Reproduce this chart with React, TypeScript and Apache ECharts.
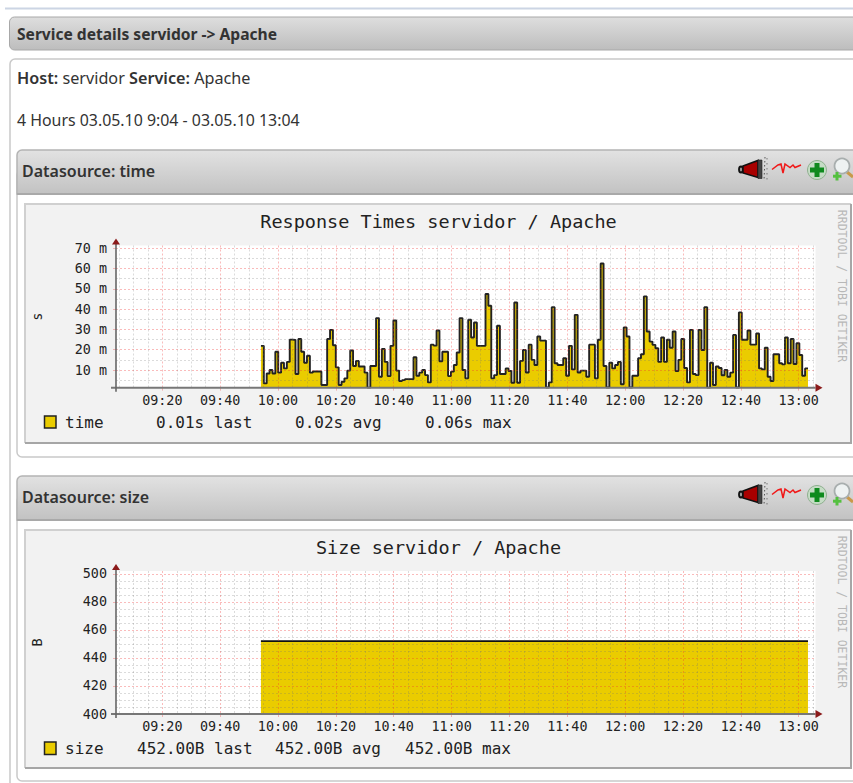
import React, { useEffect, useRef } from "react";
import * as echarts from "echarts";

const timeLabels = ["09:20","09:40","10:00","10:20","10:40","11:00","11:20","11:40","12:00","12:20","12:40","13:00"];
const responseTicks = [10, 20, 30, 40, 50, 60, 70];
const responseMinorTicks = [5, 15, 25, 35, 45, 55, 65];
const sizeTicks = [400, 420, 440, 460, 480, 500];
const sizeMinorTicks = [405, 410, 415, 425, 430, 435, 445, 450, 455, 465, 470, 475, 485, 490, 495];

// Response time in milliseconds, one sample per rrd step
const responseValues = [
  21.9,3.4,8.3,10,8.3,19,8.7,13.6,10.8,14,25,24.8,8,25.3,19,13.6,17,8.7,9.3,9.3,9.3,2.6,2.6,25.3,29.8,22.2,11.3,2.6,4.2,5.9,9.7,19.6,12,14.5,11.7,11.7,8.7,1.3,12,12,35.6,6.7,20.4,14,7,21.9,34.4,9.7,4.6,5,5.5,5.5,5.5,16.3,7.2,8.7,10,7.5,3.9,22.5,22,29.5,14.3,19,19,
  7,9.2,12.5,18.6,35.6,10,5.9,34.8,26,33.4,21.9,21.9,21.9,47.5,41.7,5.9,7.5,31.8,8,8,10.8,9.5,3.7,43.3,3.7,14.5,19.9,8.8,22.5,15,12.5,26.5,24.5,24.5,1.4,3.9,41,13.3,12.5,12.5,15.8,7.2,21.9,10.3,37.2,8.8,9.7,9.7,6.7,22.5,22.5,5.9,24.9,62.5,12,1.4,13.6,10.8,12.5,14,3,31,26.5,1.4,7.2,7.2,
  15.8,17.8,46.3,29,24,22.4,20.7,14,26,14,24.9,21,29,9.5,15,25.3,11,3.9,29.8,8,7.5,29.8,19.9,41,1.3,13.6,2.6,11.7,11,7.4,10,6.7,8.7,27.3,1.4,38.4,24.9,24.9,29.5,22.5,22.5,28,10.8,10.3,21,6.7,4.6,17.8,17.8,13.3,12.8,26,13.3,25.3,13,23.2,17.4,7.2,10.8,
];
const sizeValues = [452, 452];

const DATA_START = 50.1; // minutes after 09:04
const DATA_END = 239.2;
const X_MAX = 241.8;
const ORIGIN = 9 * 60 + 4;

const MONO = '"DejaVu Sans Mono", monospace';
const UI = '"Noto Sans", sans-serif';
const YELLOW = "#EACC00";
const DARKRED = "#8b1a1a";
const MAJOR = "rgba(240,50,50,0.33)";
const MINOR = "rgba(110,110,110,0.25)";

const toMinutes = (s: string) => {
  const [h, m] = s.split(":").map(Number);
  return h * 60 + m - ORIGIN;
};
const majorX = timeLabels.map(toMinutes);
const minorX: number[] = [];
for (let t = 1; t < X_MAX; t += 5) if (!majorX.includes(t)) minorX.push(t);

const stepW = (DATA_END - DATA_START) / responseValues.length;
const responseData = responseValues.map((v, i) => [DATA_START + i * stepW, v]);
responseData.push([DATA_END, responseValues[responseValues.length - 1]]);
const sizeData = sizeValues.map((v, i) => [i === 0 ? DATA_START : DATA_END, v]);

const headGrad = (a: string, b: string) => ({
  type: "linear", x: 0, y: 0, x2: 0, y2: 1,
  colorStops: [{ offset: 0, color: a }, { offset: 1, color: b }],
});

const bg = (el: any) => ({ z: -5, silent: true, ...el });
const fg = (el: any) => ({ z: 10, silent: true, ...el });

function panel(top: number, bottom: number, label: string, imgTop: number, imgBottom: number) {
  return [
    bg({ type: "rect", z2: 1, shape: { x: 17, y: top + 20, width: 860, height: bottom - top - 20, r: 5 }, style: { fill: "#fff", stroke: "#c9c9c9", lineWidth: 1.5 } }),
    bg({ type: "rect", z2: 2, shape: { x: 17, y: top, width: 860, height: 44, r: [5, 0, 0, 0] }, style: { fill: headGrad("#e2e2e2", "#c2c2c2"), stroke: "#b4b4b4", lineWidth: 1.5 } }),
    bg({ type: "rect", z2: 3, shape: { x: 17, y: top + 43, width: 860, height: 2 }, style: { fill: "#a9a9a9" } }),
    bg({ type: "rect", z2: 4, shape: { x: 24, y: imgTop, width: 827.5, height: imgBottom - imgTop }, style: { fill: "#f2f2f2" } }),
    bg({ type: "polyline", z2: 5, shape: { points: [[25, imgBottom], [25, imgTop + 1], [851, imgTop + 1]] }, style: { stroke: "#d0d0d0", lineWidth: 2, fill: "none" } }),
    bg({ type: "polyline", z2: 5, shape: { points: [[25, imgBottom], [851, imgBottom], [851, imgTop + 1]] }, style: { stroke: "#a6a6a6", lineWidth: 2, fill: "none" } }),
    bg({ type: "text", z2: 6, x: 22, y: top + 21, style: { text: label, font: `600 16px ${UI}`, fill: "#333", textAlign: "left", textVerticalAlign: "middle" } }),
  ];
}

function icons(dy: number) {
  return [
    { type: "ellipse", shape: { cx: 741, cy: 169.5 + dy, rx: 2, ry: 3 }, style: { fill: "#999", stroke: "#111", lineWidth: 1.8 } },
    { type: "polygon", shape: { points: [[743, 166 + dy], [758, 160.5 + dy], [758, 177.5 + dy], [743, 173 + dy]] }, style: { fill: "#a80000", stroke: "#111", lineWidth: 1.6 } },
    { type: "rect", shape: { x: 758, y: 160 + dy, width: 4, height: 18.5 }, style: { fill: "#444", stroke: "#222", lineWidth: 0.6 } },
    { type: "line", shape: { x1: 765, y1: 157 + dy, x2: 764, y2: 181 + dy }, style: { stroke: "#555", lineWidth: 1, lineDash: [1.5, 2.5] } },
    { type: "line", shape: { x1: 767, y1: 158 + dy, x2: 767, y2: 180 + dy }, style: { stroke: "#777", lineWidth: 1, lineDash: [1.5, 3.5] } },
    { type: "polyline", shape: { points: [[772, 169.5 + dy], [778, 165 + dy], [781, 164 + dy], [783, 173 + dy], [785, 164 + dy], [790, 167.5 + dy], [793, 165 + dy], [795, 167.5 + dy], [801, 165 + dy]] }, style: { stroke: "#f01818", lineWidth: 1.5, fill: "none" } },
    { type: "circle", shape: { cx: 817, cy: 170 + dy, r: 9.5 }, style: { fill: "#c5dcc5", stroke: "#8fb08f", lineWidth: 1 } },
    { type: "rect", shape: { x: 814.5, y: 163 + dy, width: 5, height: 14 }, style: { fill: "#0f8a1e" } },
    { type: "rect", shape: { x: 810, y: 167.5 + dy, width: 14, height: 5 }, style: { fill: "#0f8a1e" } },
    { type: "line", shape: { x1: 847, y1: 172 + dy, x2: 853, y2: 177 + dy }, style: { stroke: "#c9994a", lineWidth: 3 } },
    { type: "circle", shape: { cx: 842, cy: 166 + dy, r: 7.5 }, style: { fill: "#eef2f2", stroke: "#a8aeae", lineWidth: 1.8 } },
    { type: "rect", shape: { x: 835.5, y: 172 + dy, width: 3, height: 8.5 }, style: { fill: "#55c040" } },
    { type: "rect", shape: { x: 833, y: 174.7 + dy, width: 8.5, height: 3 }, style: { fill: "#55c040" } },
  ].map(fg);
}

function axisDeco(left: number, right: number, top: number, bottom: number) {
  return [
    { type: "line", shape: { x1: left - 5, y1: bottom, x2: right, y2: bottom }, style: { stroke: "#777", lineWidth: 2 } },
    { type: "line", shape: { x1: left, y1: bottom + 4, x2: left, y2: top - 2 }, style: { stroke: "#666", lineWidth: 1.6 } },
    { type: "polygon", shape: { points: [[left - 4, top - 1], [left + 4, top - 1], [left, top - 7]] }, style: { fill: DARKRED } },
    { type: "polygon", shape: { points: [[right, bottom - 4], [right, bottom + 4], [right + 7, bottom]] }, style: { fill: DARKRED } },
  ].map(fg);
}

function legendTexts(y: number, items: [string, number][]) {
  return items.map(([text, x]) => fg({ type: "text", x, y, style: { text, font: `16px ${MONO}`, fill: "#222", textAlign: "left", textVerticalAlign: "middle" } }));
}

function chartText(title: string, titleY: number, markTop: number) {
  return [
    fg({ type: "text", x: 438.5, y: titleY, style: { text: title, font: `18.5px ${MONO}`, fill: "#222", textAlign: "center", textVerticalAlign: "middle" } }),
    fg({ type: "text", x: 842, y: markTop + 76, rotation: -Math.PI / 2, style: { text: "RRDTOOL / TOBI OETIKER", font: `11.5px ${MONO}`, fill: "#b8b8b8", textAlign: "center", textVerticalAlign: "middle" } }),
  ];
}

const majorSplit = { show: true, lineStyle: { color: MAJOR, type: [2, 2] as any, width: 1 } };
const minorSplit = { show: true, lineStyle: { color: MINOR, type: [2, 2] as any, width: 1 } };
const labelStyle = { fontFamily: MONO, fontSize: 13.4, color: "#222" };

function xAxes(gridIndex: number) {
  return [
    {
      type: "value", gridIndex, min: 0, max: X_MAX, z: 3,
      axisLine: { show: false, onZero: false },
      axisTick: { show: true, inside: false, length: 3, customValues: majorX, lineStyle: { color: MAJOR } },
      axisLabel: { show: true, customValues: majorX, margin: 6, ...labelStyle, formatter: (v: number) => timeLabels[majorX.indexOf(v)] ?? "" },
      splitLine: majorSplit,
    },
    {
      type: "value", gridIndex, min: 0, max: X_MAX, z: 3,
      axisLine: { show: false, onZero: false },
      axisTick: { show: false, customValues: minorX },
      axisLabel: { show: false, customValues: minorX },
      splitLine: minorSplit,
    },
  ];
}

function yAxes(gridIndex: number, min: number, max: number, major: number[], minor: number[], name: string, fmt: (v: number) => string) {
  return [
    {
      type: "value", gridIndex, min, max, z: 3, name, nameLocation: "middle", nameGap: 72, nameRotate: 90,
      nameTextStyle: { fontFamily: MONO, fontSize: 13.5, color: "#222" },
      axisLine: { show: false, onZero: false },
      axisTick: { show: true, length: 3, customValues: major, lineStyle: { color: MAJOR } },
      axisLabel: { show: true, customValues: major, margin: 9, ...labelStyle, formatter: fmt },
      splitLine: majorSplit,
    },
    {
      type: "value", gridIndex, min, max, z: 3,
      axisLine: { show: false, onZero: false },
      axisTick: { show: false, customValues: minor },
      axisLabel: { show: false, customValues: minor },
      splitLine: minorSplit,
    },
  ];
}

export default function App() {
  const ref = useRef<HTMLDivElement>(null);
  useEffect(() => {
    const chart = echarts.init(ref.current!, undefined, { renderer: "svg" });
    const L = 116, R = 815.5;
    const option: any = {
      animation: false,
      backgroundColor: "#fff",
      grid: [
        { left: L, top: 245.5, width: R - L, height: 387.7 - 245.5, show: true, backgroundColor: "#fff", borderWidth: 0, z: 0 },
        { left: L, top: 571, width: R - L, height: 714 - 571, show: true, backgroundColor: "#fff", borderWidth: 0, z: 0 },
      ],
      xAxis: [...xAxes(0), ...xAxes(1)],
      yAxis: [
        ...yAxes(0, 1.28, 71.38, responseTicks, responseMinorTicks, "s", (v) => `${v} m`),
        ...yAxes(1, 400, 502.1, sizeTicks, sizeMinorTicks, "B", (v) => `${v}`),
      ],
      series: [
        {
          type: "line", name: "time", xAxisIndex: 0, yAxisIndex: 0, z: 2, step: "end", showSymbol: false,
          data: responseData, lineStyle: { color: "#222", width: 1.9 }, areaStyle: { color: YELLOW, opacity: 1, origin: "start" },
        },
        {
          type: "line", name: "size", xAxisIndex: 2, yAxisIndex: 2, z: 2, showSymbol: false,
          data: sizeData, lineStyle: { color: "#111", width: 1.6 }, areaStyle: { color: YELLOW, opacity: 1, origin: "start" },
        },
      ],
      graphic: {
        elements: [
          bg({ type: "rect", shape: { x: 5, y: 7.5, width: 860, height: 2 }, style: { fill: "#ccd5e4" } }),
          bg({ type: "rect", z2: 1, shape: { x: 9.5, y: 17, width: 860, height: 33, r: 5 }, style: { fill: headGrad("#dedede", "#bdbdbd"), stroke: "#a8a8a8", lineWidth: 1 } }),
          bg({ type: "text", z2: 2, x: 17, y: 33.5, style: { text: "Service details servidor -> Apache", font: `bold 15.6px ${UI}`, fill: "#333", textAlign: "left", textVerticalAlign: "middle" } }),
          bg({ type: "rect", z2: 0, shape: { x: 10, y: 59, width: 870, height: 760, r: 5 }, style: { fill: "#fff", stroke: "#c9c9c9", lineWidth: 1.5 } }),
          bg({
            type: "text", z2: 2, x: 17, y: 78,
            style: {
              text: "{b|Host:} servidor {b|Service:} Apache",
              font: `16.2px ${UI}`, fill: "#333", textAlign: "left", textVerticalAlign: "middle",
              rich: { b: { font: `600 16.2px ${UI}`, fill: "#333" } },
            },
          }),
          bg({ type: "text", z2: 2, x: 17, y: 119.5, style: { text: "4 Hours 03.05.10 9:04 - 03.05.10 13:04", font: `15.9px ${UI}`, fill: "#333", textAlign: "left", textVerticalAlign: "middle" } }),
          ...panel(150, 457, "Datasource: time", 203, 443),
          ...panel(476, 781, "Datasource: size", 529, 768),
          ...icons(0),
          ...icons(325),
          ...axisDeco(L, R, 245.5, 387.7),
          ...axisDeco(L, R, 571, 714),
          ...chartText("Response Times servidor / Apache", 221, 210),
          ...chartText("Size servidor / Apache", 547, 536),
          fg({ type: "rect", shape: { x: 44.5, y: 416, width: 11.5, height: 12 }, style: { fill: YELLOW, stroke: "#222", lineWidth: 1.5 } }),
          fg({ type: "rect", shape: { x: 44.5, y: 742, width: 11.5, height: 12.5 }, style: { fill: YELLOW, stroke: "#222", lineWidth: 1.5 } }),
          ...legendTexts(422, [["time", 65], ["0.01s last", 156], ["0.02s avg", 295], ["0.06s max", 425]]),
          ...legendTexts(748, [["size", 65], ["452.00B last", 137], ["452.00B avg", 275], ["452.00B max", 405]]),
        ],
      },
    };
    chart.setOption(option);
    return () => chart.dispose();
  }, []);
  return <div ref={ref} style={{ position: "fixed", left: 0, top: 0, width: 853, height: 783 }} />;
}
